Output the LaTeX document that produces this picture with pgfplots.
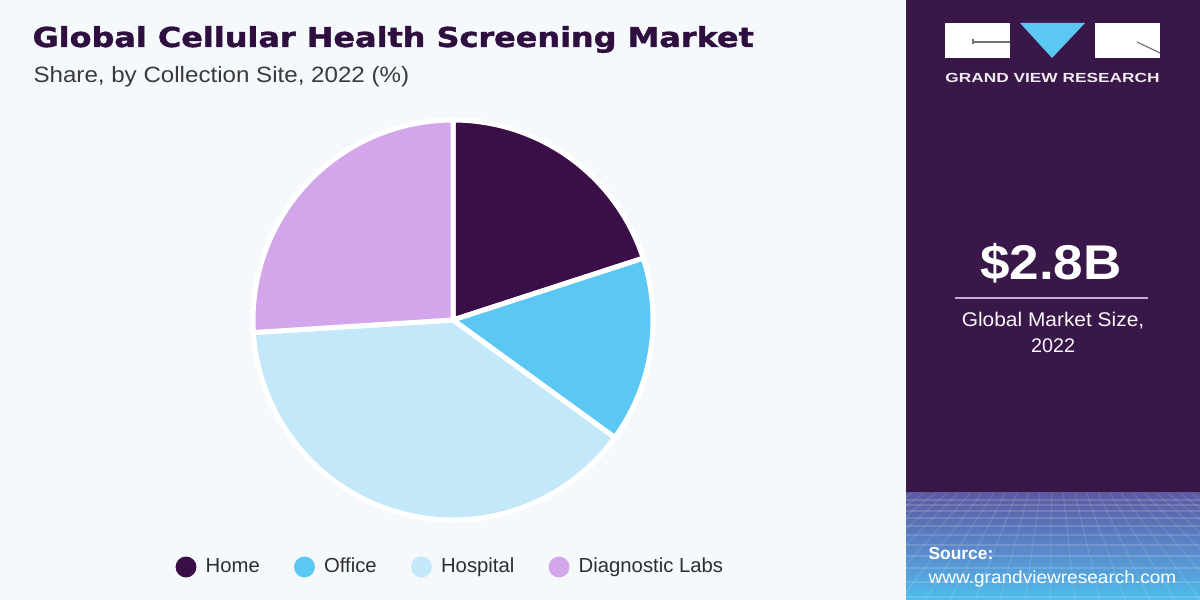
\documentclass[border=0pt]{standalone}
\usepackage{pgfplots}
\pgfplotsset{compat=1.18}
\usepackage{pgfplotstable}
\usepackage{graphicx}
\usepackage{fontspec}
\setmainfont{Liberation Sans}
\newfontfamily\heavy{DejaVu Sans}[BoldFeatures={FakeBold=1.3}]
\definecolor{bg}{HTML}{F5F9FC}
\definecolor{panel}{HTML}{3A1749}
\definecolor{titlec}{HTML}{2F0F40}
\definecolor{subc}{HTML}{3A3A3A}
\definecolor{homec}{HTML}{3A0F47}
\definecolor{officec}{HTML}{5BC8F4}
\definecolor{hospc}{HTML}{C3E8FA}
\definecolor{labsc}{HTML}{D3A6EC}
\definecolor{linec}{HTML}{C8A8E0}
\definecolor{gradtop}{HTML}{5B5AA2}
\definecolor{gradmid}{HTML}{5A86C8}
\definecolor{gradbot}{HTML}{4FBDEC}
\definecolor{legtext}{HTML}{2E2E2E}

\pgfplotstableread{
label value
Home 20
Office 15
Hospital 39
Labs 26
}\piedata
\pgfplotstablegetelem{0}{value}\of\piedata \let\vA\pgfplotsretval
\pgfplotstablegetelem{1}{value}\of\piedata \let\vB\pgfplotsretval
\pgfplotstablegetelem{2}{value}\of\piedata \let\vC\pgfplotsretval
\pgfplotstablegetelem{3}{value}\of\piedata \let\vD\pgfplotsretval
\pgfmathsetmacro\aA{90}
\pgfmathsetmacro\aB{\aA-3.6*\vA}
\pgfmathsetmacro\aC{\aB-3.6*\vB}
\pgfmathsetmacro\aD{\aC-3.6*\vC}
\pgfmathsetmacro\aE{\aD-3.6*\vD}

\begin{document}
\begin{tikzpicture}
\begin{axis}[
  name=main,
  width=16cm, height=8cm, scale only axis,
  xmin=0, xmax=1200, ymin=0, ymax=600,
  hide axis, clip=false, xtick=\empty, ytick=\empty,
  legend style={at={(axis cs:452,33)}, anchor=center, draw=none, fill=none,
    legend columns=4, font=\fontsize{7.7}{9}\selectfont, text=legtext,
    /tikz/every odd column/.append style={column sep=1.5pt},
    /tikz/every even column/.append style={column sep=11pt}},
  legend cell align=left,
]
% backgrounds
\fill[bg] (axis cs:0,0) rectangle (axis cs:906,600);
\fill[panel] (axis cs:906,0) rectangle (axis cs:1200,600);
\shade[top color=gradtop, bottom color=gradbot, middle color=gradmid] (axis cs:906,0) rectangle (axis cs:1200,107);
\begin{scope}
\clip (axis cs:906,0) rectangle (axis cs:1200,107);
\pgfplotsinvokeforeach{100,95,89,82,74,65,55,44,32,18,3}{
  \draw[overlay, white, opacity=0.14, line width=0.4pt] (axis cs:906,#1) -- (axis cs:1200,#1);
}
\pgfplotsinvokeforeach{700,725,750,775,800,825,850,875,900,925,950,975,1000,1025,1050,1075,1100,1125,1150,1175,1200,1225,1250,1275,1300,1325,1350,1375,1400}{
  \draw[overlay, white, opacity=0.12, line width=0.4pt] (axis cs:#1,0) -- (axis cs:{1053+(#1-1053)*0.465},107);
}
\end{scope}

% pie
\addplot[fill=homec, draw=white, line width=1.9pt, line join=round, domain=\aB:\aA, samples=90, variable=\t,
  legend image code/.code={\fill[homec] (0pt,0pt) circle (3pt);}]
  ({453+200*cos(\t)},{280+200*sin(\t)}) -- (axis cs:453,280) -- cycle;
\addlegendentry{Home}
\addplot[fill=officec, draw=white, line width=1.9pt, line join=round, domain=\aC:\aB, samples=90, variable=\t,
  legend image code/.code={\fill[officec] (0pt,0pt) circle (3pt);}]
  ({453+200*cos(\t)},{280+200*sin(\t)}) -- (axis cs:453,280) -- cycle;
\addlegendentry{Office}
\addplot[fill=hospc, draw=white, line width=1.9pt, line join=round, domain=\aD:\aC, samples=90, variable=\t,
  legend image code/.code={\fill[hospc] (0pt,0pt) circle (3pt);}]
  ({453+200*cos(\t)},{280+200*sin(\t)}) -- (axis cs:453,280) -- cycle;
\addlegendentry{Hospital}
\addplot[fill=labsc, draw=white, line width=1.9pt, line join=round, domain=\aE:\aD, samples=90, variable=\t,
  legend image code/.code={\fill[labsc] (0pt,0pt) circle (3pt);}]
  ({453+200*cos(\t)},{280+200*sin(\t)}) -- (axis cs:453,280) -- cycle;
\addlegendentry{Diagnostic Labs}

% titles
\node[anchor=base west, inner sep=0pt, text=titlec] at (axis cs:32,553)
  {\resizebox{273.6pt}{\height}{\heavy\bfseries\fontsize{10.4}{12}\selectfont Global Cellular Health Screening Market}};
\node[anchor=base west, inner sep=0pt, text=subc] at (axis cs:33,517)
  {\resizebox{142.5pt}{\height}{\fontsize{8.4}{10}\selectfont Share, by Collection Site, 2022 (\%)}};

% logo
\fill[white] (axis cs:945,542) rectangle (axis cs:1010,577);
\fill[officec] (axis cs:1020,577) -- (axis cs:1085,577) -- (axis cs:1052,542) -- cycle;
\fill[white] (axis cs:1095,542) rectangle (axis cs:1160,577);
\draw[black!55, line width=0.45pt] (axis cs:973,558) -- (axis cs:1010,558);
\draw[black!55, line width=0.45pt] (axis cs:973,555.5) -- (axis cs:973,560.5);
\draw[black!55, line width=0.45pt] (axis cs:1137,558) -- (axis cs:1160,547);
\node[anchor=base, inner sep=0pt, text=white!92!panel] at (axis cs:1052.5,517)
  {\resizebox{81.3pt}{\height}{\bfseries\fontsize{5.0}{6}\selectfont GRAND VIEW RESEARCH}};

% market size
\node[anchor=base, inner sep=0pt, text=white] at (axis cs:1051,320)
  {\resizebox{53.7pt}{\height}{\bfseries\fontsize{18.5}{20}\selectfont \$2.8B}};
\draw[linec, line width=0.8pt] (axis cs:955,302) -- (axis cs:1148,302);
\node[anchor=base, inner sep=0pt, text=white!92!linec] at (axis cs:1053,273)
  {\resizebox{69.2pt}{\height}{\fontsize{7.5}{9}\selectfont Global Market Size,}};
\node[anchor=base, inner sep=0pt, text=white!92!linec] at (axis cs:1053,247)
  {\fontsize{7.5}{9}\selectfont 2022};

% source
\node[anchor=base west, inner sep=0pt, text=white] at (axis cs:928,40)
  {\bfseries\fontsize{6.6}{8}\selectfont Source:};
\node[anchor=base west, inner sep=0pt, text=white] at (axis cs:928,17)
  {\resizebox{94pt}{\height}{\fontsize{6.7}{8}\selectfont www.grandviewresearch.com}};
\end{axis}
\pgfresetboundingbox
\path[use as bounding box] (main.south west) rectangle (main.north east);
\end{tikzpicture}
\end{document}
